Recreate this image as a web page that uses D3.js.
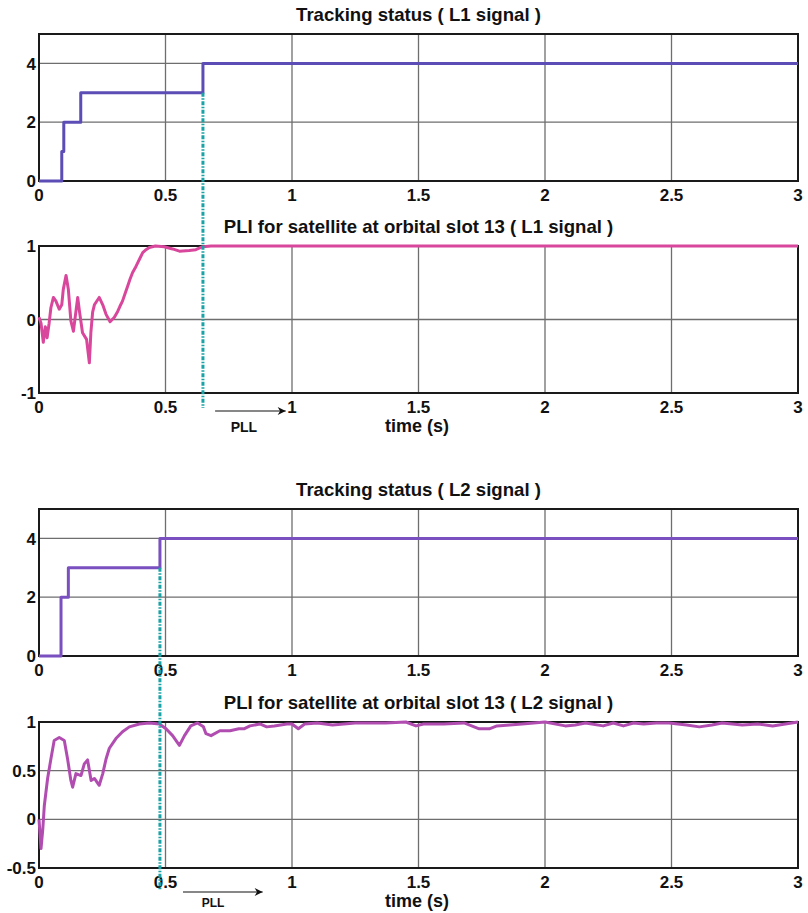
<!DOCTYPE html>
<html>
<head>
<meta charset="utf-8">
<script src="https://cdn.jsdelivr.net/npm/d3@7"></script>
<style>
  body { margin: 0; background: #fff; }
  svg text { font-family: "Liberation Sans", Arial, Helvetica, sans-serif; font-weight: bold; fill: #111; }
</style>
</head>
<body>
<div id="chart"></div>
<script>
// ---------------- Data ---------------- //

const xTicks = [0, 0.5, 1, 1.5, 2, 2.5, 3];
const xTickLabels = ["0", "0.5", "1", "1.5", "2", "2.5", "3"];

// Tracking status, L1 (step values)
const trackL1Time = [0, 0.090, 0.098, 0.165, 0.648, 3];
const trackL1Value = [0, 1, 2, 3, 4, 4];

// Tracking status, L2
const trackL2Time = [0, 0.087, 0.116, 0.478, 3];
const trackL2Value = [0, 2, 3, 4, 4];

// PLI, L1
const pliL1Time = [0, 0.008, 0.017, 0.025, 0.032, 0.040, 0.047, 0.057, 0.067, 0.080, 0.090, 0.096,
  0.107, 0.116, 0.126, 0.136, 0.146, 0.153, 0.160, 0.172, 0.188, 0.199, 0.205, 0.212, 0.219, 0.238,
  0.252, 0.265, 0.281, 0.298, 0.311, 0.320, 0.330, 0.340, 0.350, 0.360, 0.370, 0.380, 0.390, 0.400,
  0.410, 0.423, 0.436, 0.460, 0.495, 0.528, 0.555, 0.594, 0.620, 0.647, 0.680, 3];
const pliL1Value = [0.03, -0.05, -0.31, -0.1, -0.25, -0.05, 0.16, 0.30, 0.25, 0.14, 0.2, 0.41,
  0.6, 0.41, -0.02, -0.16, 0.11, 0.30, 0.11, -0.18, -0.27, -0.59, -0.18, 0.1, 0.20, 0.30,
  0.2, 0.07, -0.03, 0.03, 0.11, 0.18, 0.25, 0.35, 0.45, 0.55, 0.64, 0.70, 0.77, 0.84,
  0.91, 0.95, 0.98, 1.0, 0.99, 0.96, 0.93, 0.94, 0.95, 0.99, 1.0, 1.0];

// PLI, L2
const pliL2Time = [0, 0.008, 0.015, 0.021, 0.034, 0.047, 0.060, 0.080, 0.100, 0.113, 0.126, 0.133,
  0.146, 0.166, 0.179, 0.192, 0.206, 0.219, 0.238, 0.252, 0.265, 0.278, 0.304, 0.330, 0.357, 0.397,
  0.436, 0.476, 0.502, 0.528, 0.555, 0.575, 0.600, 0.627, 0.650, 0.660, 0.680, 0.715, 0.755, 0.790,
  0.810, 0.834, 0.873, 0.900, 0.930, 0.980, 1.000, 1.025, 1.050, 1.100, 1.160, 1.250, 1.370, 1.450,
  1.490, 1.520, 1.600, 1.680, 1.740, 1.780, 1.810, 1.860, 1.910, 2.000, 2.080, 2.120, 2.160, 2.230,
  2.270, 2.310, 2.350, 2.390, 2.440, 2.490, 2.560, 2.610, 2.660, 2.700, 2.780, 2.840, 2.900, 2.950, 3];
const pliL2Value = [0.0, -0.3, -0.1, 0.14, 0.42, 0.62, 0.81, 0.84, 0.81, 0.62, 0.40, 0.33,
  0.47, 0.45, 0.57, 0.61, 0.40, 0.42, 0.35, 0.47, 0.62, 0.73, 0.83, 0.90, 0.95, 0.98,
  0.99, 0.98, 0.93, 0.86, 0.76, 0.86, 0.96, 0.99, 0.95, 0.88, 0.86, 0.91, 0.91, 0.93,
  0.93, 0.96, 0.98, 0.95, 0.96, 0.98, 0.98, 0.93, 0.98, 0.99, 0.97, 0.99, 0.99, 1.0,
  0.96, 0.98, 0.98, 0.99, 0.93, 0.93, 0.96, 0.97, 0.98, 1.0, 0.96, 0.97, 0.99, 0.96,
  0.99, 0.96, 0.99, 0.98, 0.99, 0.99, 0.97, 0.95, 0.97, 0.99, 0.97, 0.98, 0.96, 0.98, 1.0];

// Lock instants marked with the dash-dot line
const lockL1 = 0.648;
const lockL2 = 0.478;

// PLL arrow annotations: [start, end] in seconds, label centre
const pllArrowL1 = [0.696, 0.975];
const pllLabelL1 = 0.81;
const pllArrowL2 = [0.569, 0.884];
const pllLabelL2 = 0.688;

// ---------------- Chart ---------------- //

const width = 808;
const height = 913;
const left = 39;
const right = 798;

const svg = d3.select("#chart").append("svg")
  .attr("width", width)
  .attr("height", height);

svg.append("defs").append("marker")
  .attr("id", "arrow")
  .attr("viewBox", "0 0 10 10")
  .attr("refX", 10)
  .attr("refY", 5)
  .attr("markerWidth", 11)
  .attr("markerHeight", 8)
  .attr("markerUnits", "userSpaceOnUse")
  .attr("orient", "auto")
  .append("path")
  .attr("d", "M0,0 L10,5 L0,10 L3,5 Z")
  .attr("fill", "#111");

const x = d3.scaleLinear().domain([0, 3]).range([left, right]);

const panels = [
  { title: "Tracking status ( L1 signal )", top: 34, bottom: 181, domain: [0, 5], ticks: [0, 2, 4],
    time: trackL1Time, value: trackL1Value, color: "#5b4db5", curve: d3.curveStepAfter },
  { title: "PLI for satellite at orbital slot 13 ( L1 signal )", top: 246, bottom: 393, domain: [-1, 1], ticks: [-1, 0, 1],
    time: pliL1Time, value: pliL1Value, color: "#d8479c", curve: d3.curveLinear, xlabel: true },
  { title: "Tracking status ( L2 signal )", top: 509, bottom: 656, domain: [0, 5], ticks: [0, 2, 4],
    time: trackL2Time, value: trackL2Value, color: "#7a4fbf", curve: d3.curveStepAfter },
  { title: "PLI for satellite at orbital slot 13 ( L2 signal )", top: 722, bottom: 868, domain: [-0.5, 1], ticks: [-0.5, 0, 0.5, 1],
    time: pliL2Time, value: pliL2Value, color: "#b14db1", curve: d3.curveLinear, xlabel: true }
];

const yScales = panels.map(p => d3.scaleLinear().domain(p.domain).range([p.bottom, p.top]));

panels.forEach((p, i) => drawPanel(p, yScales[i]));

// dash-dot lock markers spanning status and PLI panels
drawLock(lockL1, yScales[0](3), panels[1].bottom + 15);
drawLock(lockL2, yScales[2](3), panels[3].bottom + 22);

drawPll(pllArrowL1, pllLabelL1, panels[1].bottom + 18, panels[1].bottom + 39, 14);
drawPll(pllArrowL2, pllLabelL2, panels[3].bottom + 24, panels[3].bottom + 39, 12);

function drawPanel(p, y) {
  const g = svg.append("g");

  // grid
  g.selectAll(".vgrid")
    .data(xTicks.slice(1, -1))
    .enter().append("line")
    .attr("x1", d => x(d)).attr("x2", d => x(d))
    .attr("y1", p.top).attr("y2", p.bottom)
    .attr("stroke", "#6e6e6e").attr("stroke-width", 1.3);

  g.selectAll(".hgrid")
    .data(p.ticks)
    .enter().append("line")
    .attr("x1", left).attr("x2", right)
    .attr("y1", d => y(d)).attr("y2", d => y(d))
    .attr("stroke", "#6e6e6e").attr("stroke-width", 1.3);

  // frame
  g.append("rect")
    .attr("x", left).attr("y", p.top)
    .attr("width", right - left).attr("height", p.bottom - p.top)
    .attr("fill", "none").attr("stroke", "#1a1a1a").attr("stroke-width", 2);

  // data line
  const pts = p.time.map((t, k) => [t, p.value[k]]);
  const line = d3.line().x(d => x(d[0])).y(d => y(d[1])).curve(p.curve);
  g.append("path")
    .attr("d", line(pts))
    .attr("fill", "none")
    .attr("stroke", p.color)
    .attr("stroke-width", 3)
    .attr("stroke-linejoin", "round");

  // y tick labels
  g.selectAll(".ylab")
    .data(p.ticks)
    .enter().append("text")
    .attr("x", left - 3)
    .attr("y", d => y(d))
    .attr("dy", "0.36em")
    .attr("text-anchor", "end")
    .style("font-size", "17px")
    .text(d => d);

  // x tick labels
  g.selectAll(".xlab")
    .data(xTicks)
    .enter().append("text")
    .attr("x", d => x(d))
    .attr("y", p.bottom + 20)
    .attr("text-anchor", "middle")
    .style("font-size", "17px")
    .text((d, k) => xTickLabels[k]);

  // title
  g.append("text")
    .attr("x", (left + right) / 2)
    .attr("y", p.top - 13)
    .attr("text-anchor", "middle")
    .style("font-size", "18.6px")
    .text(p.title);

  if (p.xlabel) {
    g.append("text")
      .attr("x", 417)
      .attr("y", p.bottom + 39)
      .attr("text-anchor", "middle")
      .style("font-size", "18px")
      .text("time (s)");
  }
}

function drawLock(t, y1, y2) {
  svg.append("line")
    .attr("x1", x(t)).attr("x2", x(t))
    .attr("y1", y1).attr("y2", y2)
    .attr("stroke", "#1aa3a6")
    .attr("stroke-width", 3)
    .attr("stroke-dasharray", "4,1.5,1.5,1.5");
}

function drawPll(span, labelT, yArrow, yText, size) {
  svg.append("line")
    .attr("x1", x(span[0])).attr("x2", x(span[1]))
    .attr("y1", yArrow).attr("y2", yArrow)
    .attr("stroke", "#111")
    .attr("stroke-width", 1.2)
    .attr("marker-end", "url(#arrow)");

  svg.append("text")
    .attr("x", x(labelT))
    .attr("y", yText)
    .attr("text-anchor", "middle")
    .style("font-size", size + "px")
    .text("PLL");
}
</script>
</body>
</html>
